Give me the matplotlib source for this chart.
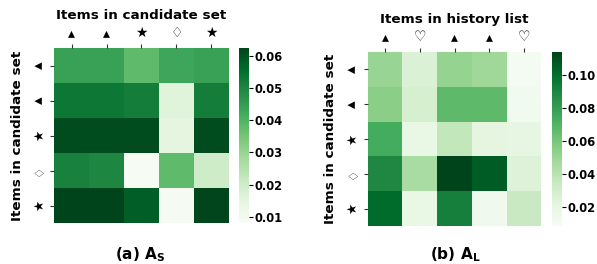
import matplotlib
matplotlib.use("Agg")
import matplotlib.pyplot as plt
import numpy as np

plt.rcParams["font.family"] = ["DejaVu Sans"]
plt.rcParams["font.weight"] = "bold"
plt.rcParams["mathtext.fontset"] = "dejavusans"

# panel (a): candidate set x candidate set
a_cols = ["▴", "▴", "★", "♢", "★"]
a_rows = ["▴", "▴", "★", "♢", "★"]
a_vals = [
    [0.044, 0.044, 0.038, 0.043, 0.044],
    [0.053, 0.053, 0.052, 0.016, 0.052],
    [0.061, 0.061, 0.061, 0.015, 0.061],
    [0.051, 0.050, 0.0085, 0.038, 0.020],
    [0.0624, 0.0624, 0.058, 0.009, 0.062],
]
a_vmin, a_vmax = 0.0081, 0.0624

# panel (b): candidate set x history list
b_cols = ["▴", "♡", "▴", "▴", "♡"]
b_rows = ["▴", "▴", "★", "♢", "★"]
b_vals = [
    [0.051, 0.026, 0.052, 0.049, 0.011],
    [0.055, 0.029, 0.067, 0.067, 0.013],
    [0.074, 0.019, 0.037, 0.022, 0.021],
    [0.089, 0.046, 0.114, 0.106, 0.025],
    [0.101, 0.019, 0.093, 0.014, 0.035],
]
b_vmin, b_vmax = 0.0087, 0.114

fig = plt.figure(figsize=(5.97, 2.64), dpi=100)


def symbol_size(s):
    # the small triangle glyph is tiny, bump it up a bit
    return 11 if s == "▴" else 9


def panel(ax_rect, cb_rect, vals, vmin, vmax, cols, rows, title, caption, cx, cticks):
    ax = fig.add_axes(ax_rect)
    cax = fig.add_axes(cb_rect)
    data = np.array(vals)
    mesh = ax.pcolormesh(data, cmap="Greens", vmin=vmin, vmax=vmax)
    ax.set_xlim(0, data.shape[1])
    ax.set_ylim(data.shape[0], 0)
    ax.set_xticks(np.arange(len(cols)) + 0.5)
    ax.set_xticklabels(cols)
    ax.set_yticks(np.arange(len(rows)) + 0.5)
    ax.set_yticklabels(rows, rotation=90, va="center")
    for lbl, s in zip(ax.get_xticklabels(), cols):
        lbl.set_fontsize(symbol_size(s))
    for lbl, s in zip(ax.get_yticklabels(), rows):
        lbl.set_fontsize(symbol_size(s))
    ax.xaxis.tick_top()
    ax.xaxis.set_label_position("top")
    ax.set_xlabel(title, fontsize=9.7, fontweight="bold", labelpad=5)
    ax.set_ylabel("Items in candidate set", fontsize=9.7, fontweight="bold", labelpad=5)
    ax.tick_params(length=3, width=0.8, color="#333333", pad=3)
    for s in ax.spines.values():
        s.set_visible(False)
    cb = fig.colorbar(mesh, cax=cax, ticks=cticks)
    cb.outline.set_visible(False)
    cb.ax.tick_params(length=3, width=0.8, labelsize=8.3, pad=1)
    cb.ax.set_yticklabels([f"{t:.2f}" for t in cticks], fontweight="bold")
    fig.text(cx, 0.035, caption, ha="center", va="center", fontsize=11, fontweight="bold")


panel([0.0905, 0.155, 0.293, 0.663], [0.400, 0.155, 0.017, 0.663],
      a_vals, a_vmin, a_vmax, a_cols, a_rows, "Items in candidate set",
      r"(a) $\mathbf{A_S}$", 0.235, [0.01, 0.02, 0.03, 0.04, 0.05, 0.06])
panel([0.616, 0.144, 0.291, 0.659], [0.925, 0.144, 0.017, 0.659],
      b_vals, b_vmin, b_vmax, b_cols, b_rows, "Items in history list",
      r"(b) $\mathbf{A_L}$", 0.762, [0.02, 0.04, 0.06, 0.08, 0.10])

fig.savefig("out.png", dpi=100)
